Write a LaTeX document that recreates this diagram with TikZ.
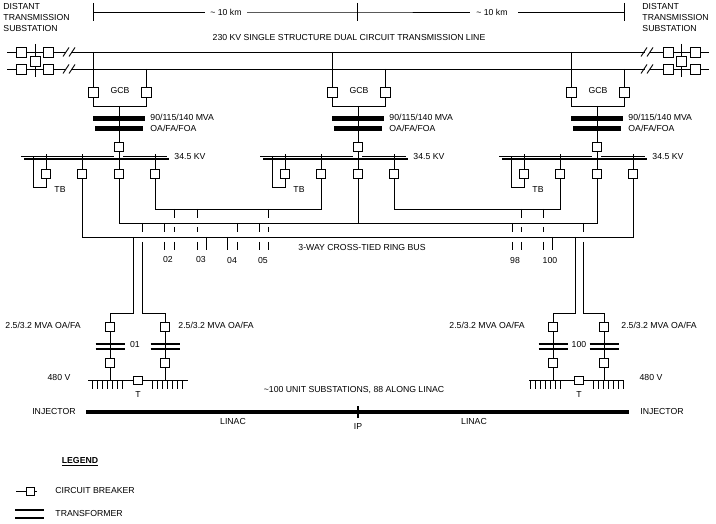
\documentclass[tikz,border=0pt]{standalone}
\usepackage{fontspec}
\setmainfont{Liberation Sans}
\begin{document}
\begin{tikzpicture}[x=1pt,y=-1pt,line width=0.9pt,
  every node/.style={font=\fontsize{8.7}{10}\selectfont, inner sep=0pt},
  cb/.style={draw,fill=white,minimum width=9pt,minimum height=9pt,inner sep=0pt,line width=0.9pt},
  cbl/.style={cb,minimum width=10pt,minimum height=10pt},
  lbl/.style={anchor=west},
  xfunit/.style={line width=2.2pt},
  bus/.style={line width=2.4pt}]
\useasboundingbox (0,0) rectangle (716,524);

% --- top texts
\node[lbl] (dl1) at (3,7) {DISTANT};
\node[lbl] (dl2) at (3,18) {TRANSMISSION};
\node[lbl] (dl3) at (3,29) {SUBSTATION};
\node[lbl] (dr1) at (642,7) {DISTANT};
\node[lbl] (dr2) at (642,18) {TRANSMISSION};
\node[lbl] (dr3) at (642,29) {SUBSTATION};

% --- dimension line
\coordinate (dA) at (93,12); \coordinate (dB) at (357,12); \coordinate (dC) at (624,12);
\draw (93,3) -- (93,21);
\draw (357,3) -- (357,21);
\draw (624,3) -- (624,21);
\node (km1) at (226,12) {\textasciitilde\ 10 km};
\node (km2) at (492,12) {\textasciitilde\ 10 km};
\draw (dA) -- ([xshift=-5pt]km1.west);
\draw ([xshift=5pt]km1.east) -- (dB) -- ([xshift=-6pt]km2.west);
\draw ([xshift=10pt]km2.east) -- (dC);

\node (title) at (349,38) {230 KV SINGLE STRUCTURE DUAL CIRCUIT TRANSMISSION LINE};

% --- transmission lines
\foreach \yy in {52,69} {
  \draw (7,\yy) -- (66,\yy);
  \draw (71,\yy) -- (645,\yy);
  \draw (650,\yy) -- (709,\yy);
  \draw (63,\yy+4.5) -- (69,\yy-4.5);
  \draw (69,\yy+4.5) -- (75,\yy-4.5);
  \draw (641,\yy+4.5) -- (647,\yy-4.5);
  \draw (647,\yy+4.5) -- (653,\yy-4.5);
}
\draw (35,44) -- (35,77);
\draw (681,44) -- (681,77);
\node[cbl] (la1) at (21,52) {};
\node[cbl] (lb1) at (48,52) {};
\node[cbl] (la2) at (21,69) {};
\node[cbl] (lb2) at (48,69) {};
\node[cbl] (lt) at (35,61) {};
\node[cbl] (ra1) at (695,52) {};
\node[cbl] (rb1) at (668,52) {};
\node[cbl] (ra2) at (695,69) {};
\node[cbl] (rb2) at (668,69) {};
\node[cbl] (rt) at (681,61) {};

% --- ring bus levels
\coordinate (r1) at (0,209);
\coordinate (r2) at (0,223);
\coordinate (r3) at (0,237);

% --- main substations
\foreach \cx/\i in {119/1,358/2,597/3} {
  \node[cbl] (ga\i) at (\cx-26,92) {};
  \node[cbl] (gb\i) at (\cx+27,92) {};
  \draw (\cx-26,52) -- (ga\i.north);
  \draw (\cx+27,69) -- (gb\i.north);
  \draw (ga\i.south) -- (\cx-26,106) -- (\cx+27,106) -- (gb\i.south);
  \node (gcb\i) at (\cx+1,91) {GCB};
  \node[cb] (tx\i) at (\cx,146.5) {};
  \draw (\cx,106) -- (tx\i.north);
  \fill (\cx-26,116) rectangle (\cx+26,121);
  \fill (\cx-24,126.5) rectangle (\cx+24,131.5);
  \node[lbl] (rt\i) at (\cx+31,117.5) {90/115/140 MVA};
  \node[lbl] (cl\i) at (\cx+31,128.5) {OA/FA/FOA};
  \draw (tx\i.south) -- (\cx,159);
  \draw (\cx-98,156) -- (\cx-5,156) (\cx+4,156) -- (\cx+48,156);
  \draw[bus] (\cx-95,159) -- (\cx+50,159);
  \node[lbl] (kv\i) at (\cx+55,157) {34.5 KV};
  \node[cb] (tb\i) at (\cx-73,174) {};
  \node[cb] (fa\i) at (\cx-37,174) {};
  \node[cb] (fb\i) at (\cx,174) {};
  \node[cb] (fc\i) at (\cx+36,174) {};
  \foreach \n in {tb,fa,fb,fc} { \draw (\n\i.north) -- ++(0,-15); }
  \draw (tb\i.south) -- (\cx-73,187) -- (\cx-86,187) -- (\cx-86,156);
  \node (tbl\i) at (\cx-59,190) {TB};
}

% --- ring bus
\draw (fc1.south) |- (fa2.south |- r1) -- (fa2.south);
\draw (fc2.south) |- (fa3.south |- r1) -- (fa3.south);
\draw (fb1.south) |- (fb3.south |- r2) -- (fb3.south);
\draw (fb2.south) -- (fb2.south |- r2);
\draw (fa1.south) |- (fc3.south |- r3) -- (fc3.south);
\node (ring) at (362,248) {3-WAY CROSS-TIED RING BUS};

% --- taps
\foreach \xx in {174,197,268,521,543} {
  \draw (\xx,209) -- (\xx,218) (\xx,227) -- (\xx,232) (\xx,242) -- (\xx,250);
}
\foreach \xx in {164,237,259,512} {
  \draw (\xx,223) -- (\xx,232) (\xx,242) -- (\xx,250);
}
\foreach \xx in {206,227,552} {
  \draw (\xx,237) -- (\xx,250);
}
\node (n02) at (168,260) {02};
\node (n03) at (201,260) {03};
\node (n04) at (232,261) {04};
\node (n05) at (263,261) {05};
\node (n98) at (515,261) {98};
\node (n100) at (550,261) {100};

% --- unit substations
\foreach \pfl/\pfr/\pul/\pur/\pa/\pb/\pt/\plo/\pro/\pj in
   {133/142/110/165/88/188/138/92/152/1, 575/583/553/604/529/623/579/530/593/2} {
  \node[cb] (ua\pj) at (\pul,327) {};
  \node[cb] (ub\pj) at (\pur,327) {};
  \node[cb] (uc\pj) at (\pul,363) {};
  \node[cb] (ud\pj) at (\pur,363) {};
  \node[cb,minimum height=8pt] (ut\pj) at (\pt,380) {};
  \draw (\pfl,237) -- (\pfl,313) -- (\pul,313) -- (ua\pj.north);
  \draw (\pfr,223) -- (\pfr,232);
  \draw (\pfr,242) -- (\pfr,313) -- (\pur,313) -- (ub\pj.north);
  \draw (ua\pj.south) -- (uc\pj.north);
  \draw (ub\pj.south) -- (ud\pj.north);
  \draw[xfunit] (\pul-14.5,344) -- (\pul+14.5,344);
  \draw[xfunit] (\pul-14.5,349) -- (\pul+14.5,349);
  \draw[xfunit] (\pur-14.5,344) -- (\pur+14.5,344);
  \draw[xfunit] (\pur-14.5,349) -- (\pur+14.5,349);
  \draw (uc\pj.south) -- (\pul,380);
  \draw (ud\pj.south) -- (\pur,380);
  \draw (\pa,380) -- (ut\pj.west) (ut\pj.east) -- (\pb,380);
  \foreach \k in {0,...,6} {
    \draw (\plo+5*\k,380) -- (\plo+5*\k,389);
    \draw (\pro+5*\k,380) -- (\pro+5*\k,389);
  }
  \node (utl\pj) at (\pt,395) {T};
}
\node (u01) at (135,345) {01};
\node (u100) at (579,345) {100};
\node (v1) at (59,378) {480 V};
\node (v2) at (651,378) {480 V};
\node[lbl] (m1) at (5,325) {2.5/3.2 MVA OA/FA};
\node[lbl] (m2) at (178,325) {2.5/3.2 MVA OA/FA};
\node[lbl] (m3) at (449,325) {2.5/3.2 MVA OA/FA};
\node[lbl] (m4) at (621,325) {2.5/3.2 MVA OA/FA};

% --- linac
\node (us) at (354,390) {\textasciitilde100 UNIT SUBSTATIONS, 88 ALONG LINAC};
\coordinate (injL) at (86,412);
\coordinate (injR) at (629,412);
\coordinate (ipT) at (358,406);
\coordinate (ipB) at (358,418);
\draw[line width=4.5pt] (injL) -- (injR);
\draw[line width=1.5pt] (ipT) -- (ipB);
\node (ip) at (358,427) {IP};
\node (lin1) at (233,422) {LINAC};
\node (lin2) at (474,422) {LINAC};
\node (injl) at (54,412) {INJECTOR};
\node (injr) at (662,412) {INJECTOR};

% --- legend
\node[font=\fontsize{8.7}{10}\selectfont\bfseries] (leg) at (80,462) {\underline{LEGEND}};
\node[cb,minimum width=8pt,minimum height=8pt] (lcb) at (30.5,491) {};
\coordinate (lcbL) at (16,491);
\coordinate (lcbR) at (37,491);
\draw (lcbL) -- (lcb.west) (lcb.east) -- (lcbR);
\node[lbl] (lcbt) at (55,491) {CIRCUIT BREAKER};
\draw[xfunit] (15,510) -- (44,510);
\draw[xfunit] (15,518) -- (44,518);
\node[lbl] (ltrt) at (55,514) {TRANSFORMER};
\end{tikzpicture}
\end{document}
